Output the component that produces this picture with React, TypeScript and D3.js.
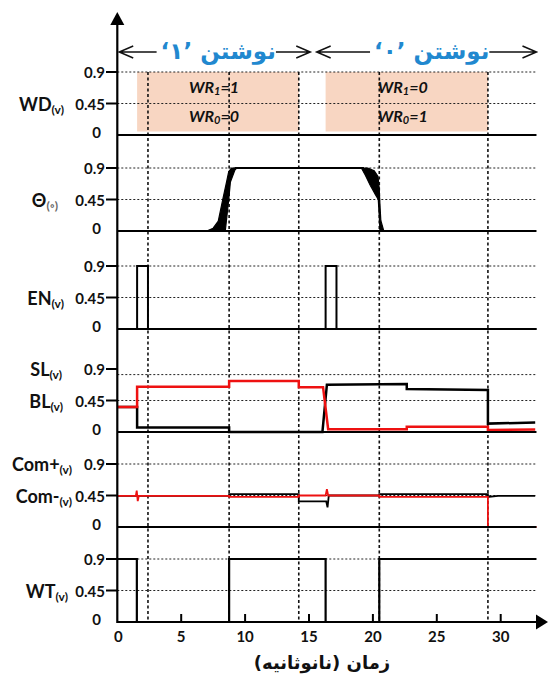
import { useEffect, useRef } from "react";
import * as d3 from "d3";

type Pt = [number, number];

// محور افقی (نانوثانیه) و محور عمودی
const xTicks = [5, 10, 15, 20, 25, 30];
const xTickLabels = [0, 5, 10, 15, 20, 25, 30];
const yTicks = [0.9, 0.45, 0];
const markerTimes = [2.4, 8.75, 14.2, 20.5, 29.0];

// سرتیتر بالا
const headerTitles = ["نوشتن ’۱‘", "نوشتن ’۰‘"];
const headerSpans: Pt[] = [
  [0.15, 15.1],
  [15.6, 32.8],
];
const headerCenters = [7.9, 24.6];

// WD
const wdBoxes: Pt[] = [
  [1.55, 14.2],
  [16.3, 29.0],
];
const wr1Values = ["1", "0"];
const wr0Values = ["0", "1"];

// Θ
const thetaPlateau: Pt[] = [
  [9.2, 0.9],
  [19.3, 0.9],
];
const thetaRiseLeft: Pt[] = [
  [7.0, 0], [7.5, 0.04], [7.9, 0.14], [8.25, 0.45], [8.55, 0.7], [8.72, 0.85], [8.95, 0.9],
];
const thetaRiseRight: Pt[] = [
  [8.45, 0], [8.6, 0.25], [8.72, 0.45], [8.85, 0.7], [9.2, 0.87], [9.34, 0.9],
];
const thetaFallLeft: Pt[] = [
  [19.1, 0.9], [19.4, 0.8], [19.8, 0.65], [20.2, 0.52], [20.42, 0.45], [20.5, 0.2], [20.55, 0],
];
const thetaFallRight: Pt[] = [
  [19.6, 0.9], [20.1, 0.86], [20.4, 0.78], [20.5, 0.6], [20.53, 0.45], [20.62, 0.15], [20.85, 0],
];

// EN
const enSeries: Pt[] = [
  [0, 0], [1.55, 0], [1.55, 0.9], [2.4, 0.9], [2.4, 0], [16.3, 0], [16.3, 0.9], [17.15, 0.9], [17.15, 0], [32.8, 0],
];

// SL / BL
const slSeries: Pt[] = [
  [0, 0.356], [1.55, 0.356], [1.55, 0.065], [8.75, 0.065], [8.75, 0], [16.05, 0], [16.4, 0.675],
  [22.65, 0.685], [22.65, 0.615], [29.0, 0.6], [29.0, 0.12], [32.7, 0.135],
];
const blSeries: Pt[] = [
  [0, 0.356], [1.55, 0.356], [1.55, 0.647], [8.75, 0.647], [8.75, 0.73], [14.2, 0.73], [14.2, 0.64],
  [16.1, 0.64], [16.5, 0.04], [22.65, 0.04], [22.65, 0.075], [29.0, 0.075], [29.0, 0.03], [32.7, 0.035],
];

// Com+ / Com-
const comMinus: Pt[] = [
  [0, 0.445], [8.75, 0.445], [8.75, 0.47], [14.2, 0.47], [14.2, 0.365], [16.35, 0.365], [16.45, 0.28],
  [16.55, 0.45], [20.5, 0.45], [20.5, 0.47], [29.0, 0.47], [29.0, 0.43], [29.8, 0.445], [32.7, 0.445],
];
const comPlus: Pt[] = [
  [0, 0.445], [1.45, 0.445], [1.52, 0.52], [1.6, 0.37], [1.68, 0.445], [8.75, 0.445], [8.75, 0.43],
  [14.2, 0.43], [14.2, 0.45], [16.3, 0.45], [16.4, 0.54], [16.5, 0.45], [20.5, 0.45], [20.5, 0.43],
  [29.0, 0.43], [29.0, 0], [32.8, 0],
];

// WT
const wtSeries: Pt[] = [
  [0, 0.9], [1.53, 0.9], [1.53, 0], [8.75, 0], [8.75, 0.9], [16.3, 0.9], [16.3, 0], [20.5, 0], [20.5, 0.9], [32.8, 0.9],
];

// برچسب‌های سمت چپ
const rowLabels = [
  { main: "WD", sub: "(v)" },
  { main: "Θ", sub: "(◦)" },
  { main: "EN", sub: "(v)" },
  { main: "SL", sub: "(v)" },
  { main: "BL", sub: "(v)" },
  { main: "Com+", sub: "(v)" },
  { main: "Com-", sub: "(v)" },
  { main: "WT", sub: "(v)" },
];
const xTitle = "زمان (نانوثانیه)";

const W = 548;
const H = 675;
const baselines = [135, 231, 329, 432, 527, 622];
const panelH = 63;
// [panel, value, right edge x]
const labelPos: [number, number, number][] = [
  [0, 0.45, 64], [1, 0.45, 58], [2, 0.45, 64], [3, 0.9, 62], [3, 0.45, 63],
  [4, 0.9, 72], [4, 0.45, 72], [5, 0.45, 68],
];
const gridVals = [[0.9, 0.45], [0.9, 0.45], [0.9, 0.45], [0.82, 0.45], [0.9, 0.45], [0.9, 0.45]];

const App = () => {
  const svgRef = useRef<SVGSVGElement | null>(null);

  useEffect(() => {
    if (!svgRef.current) return;
    const svg = d3.select(svgRef.current);
    svg.selectAll("*").remove();

    const x = d3.scaleLinear().domain([0, 30]).range([117.3, 500.7]);
    const x0 = x(0);
    const xEnd = x(32.8);
    const ys = baselines.map((b) => d3.scaleLinear().domain([0, 0.9]).range([b, b - panelH]));
    const latin = "Lato, 'Open Sans', sans-serif";
    const persian = "'DejaVu Sans', sans-serif";

    const line = (y: d3.ScaleLinear<number, number>) =>
      d3.line<Pt>().x((d) => x(d[0])).y((d) => y(d[1]));

    // WD boxes
    wdBoxes.forEach((b) => {
      svg.append("rect")
        .attr("x", x(b[0]))
        .attr("y", ys[0](0.9))
        .attr("width", x(b[1]) - x(b[0]))
        .attr("height", ys[0](0.05) - ys[0](0.9))
        .attr("fill", "#f8d6c2");
    });

    // grid
    ys.forEach((y, i) => {
      gridVals[i].forEach((v) => {
        svg.append("line")
          .attr("x1", x0).attr("x2", xEnd)
          .attr("y1", y(v)).attr("y2", y(v))
          .attr("stroke", "#222").attr("stroke-width", 1)
          .attr("stroke-dasharray", "2,2");
      });
    });

    // vertical markers
    markerTimes.forEach((t) => {
      svg.append("line")
        .attr("x1", x(t)).attr("x2", x(t))
        .attr("y1", ys[0](0.9)).attr("y2", baselines[5])
        .attr("stroke", "#111").attr("stroke-width", 1.6)
        .attr("stroke-dasharray", "3,2.5");
    });

    // WR texts
    wdBoxes.forEach((b, i) => {
      const cx = (x(b[0]) + x(b[1])) / 2 - 4;
      [[wr1Values[i], "1", 0.7], [wr0Values[i], "0", 0.28]].forEach(([val, idx, v]) => {
        const t = svg.append("text")
          .attr("x", cx).attr("y", ys[0](v as number))
          .attr("text-anchor", "middle").attr("dominant-baseline", "central")
          .attr("font-family", latin).attr("font-weight", "bold").attr("font-style", "italic")
          .attr("font-size", 16).attr("fill", "#111");
        t.append("tspan").text("WR");
        t.append("tspan").attr("font-size", 11).attr("dy", 4).text(idx as string);
        t.append("tspan").attr("dy", -4).text("=" + val);
      });
    });

    // Θ
    const fillShape = (a: Pt[], b: Pt[]) =>
      svg.append("path")
        .attr("d", line(ys[1])(a.concat([...b].reverse())) + "Z")
        .attr("fill", "#000").attr("stroke", "#000").attr("stroke-width", 1.2);
    fillShape(thetaRiseLeft, thetaRiseRight);
    fillShape(thetaFallLeft, thetaFallRight);
    svg.append("path").attr("d", line(ys[1])(thetaPlateau))
      .attr("fill", "none").attr("stroke", "#000").attr("stroke-width", 2.2);

    // EN
    svg.append("path").attr("d", line(ys[2])(enSeries))
      .attr("fill", "none").attr("stroke", "#000").attr("stroke-width", 2);

    // SL / BL
    svg.append("path").attr("d", line(ys[3])(slSeries))
      .attr("fill", "none").attr("stroke", "#000").attr("stroke-width", 2.5);
    svg.append("path").attr("d", line(ys[3])(blSeries))
      .attr("fill", "none").attr("stroke", "#ee1111").attr("stroke-width", 2.5);

    // Com
    svg.append("path").attr("d", line(ys[4])(comMinus))
      .attr("fill", "none").attr("stroke", "#000").attr("stroke-width", 1.8);
    svg.append("path").attr("d", line(ys[4])(comPlus))
      .attr("fill", "none").attr("stroke", "#ee1111").attr("stroke-width", 1.8);

    // WT
    svg.append("path").attr("d", line(ys[5])(wtSeries))
      .attr("fill", "none").attr("stroke", "#000").attr("stroke-width", 2.2);

    // zero lines, y ticks
    ys.forEach((y, i) => {
      svg.append("line")
        .attr("x1", x0).attr("x2", i === 5 ? 538 : xEnd)
        .attr("y1", y(0)).attr("y2", y(0))
        .attr("stroke", "#000").attr("stroke-width", 2.2);
      yTicks.forEach((v) => {
        if (v > 0) {
          svg.append("line")
            .attr("x1", 106).attr("x2", x0)
            .attr("y1", y(v)).attr("y2", y(v))
            .attr("stroke", "#000").attr("stroke-width", 2);
        }
        svg.append("text")
          .attr("x", v === 0 ? 101 : 105).attr("y", y(v) - (v === 0 ? 3 : 0))
          .attr("text-anchor", "end").attr("dominant-baseline", "central")
          .attr("font-family", latin).attr("font-weight", "bold").attr("font-size", 15)
          .attr("fill", "#111").text(String(v));
      });
    });

    // y axis with arrow
    svg.append("line")
      .attr("x1", x0).attr("x2", x0).attr("y1", 20).attr("y2", baselines[5] + 1)
      .attr("stroke", "#000").attr("stroke-width", 2.2);
    svg.append("path")
      .attr("d", `M${x0},12 L${x0 - 7},25 L${x0 + 7},25 Z`).attr("fill", "#000");

    // x axis arrow and ticks
    const by = baselines[5];
    svg.append("path")
      .attr("d", `M548,${by} L536,${by - 7.5} L536,${by + 7.5} Z`).attr("fill", "#000");
    xTicks.forEach((t) => {
      svg.append("line")
        .attr("x1", x(t)).attr("x2", x(t)).attr("y1", by).attr("y2", by - 8)
        .attr("stroke", "#000").attr("stroke-width", 2);
    });
    xTickLabels.forEach((t) => {
      svg.append("text")
        .attr("x", x(t) + (t === 0 ? 1 : 0)).attr("y", by + 14)
        .attr("text-anchor", "middle").attr("dominant-baseline", "central")
        .attr("font-family", latin).attr("font-weight", "bold").attr("font-size", 15)
        .attr("fill", "#111").text(String(t));
    });
    svg.append("text")
      .attr("x", 322).attr("y", 662)
      .attr("direction", "rtl").attr("text-anchor", "middle").attr("dominant-baseline", "central")
      .attr("font-family", persian).attr("font-weight", "bold").attr("font-size", 18)
      .attr("fill", "#111").text(xTitle);

    // row labels
    rowLabels.forEach((r, i) => {
      const [p, v, rx] = labelPos[i];
      const t = svg.append("text")
        .attr("x", rx).attr("y", ys[p](v))
        .attr("text-anchor", "end").attr("dominant-baseline", "central")
        .attr("font-family", latin).attr("font-weight", "bold").attr("font-size", 18)
        .attr("fill", "#111");
      t.append("tspan").text(r.main);
      t.append("tspan").attr("font-size", 12).attr("dy", 5)
        .attr("fill", r.main === "Θ" ? "#666" : "#111").text(r.sub);
    });

    // header arrows
    headerSpans.forEach((s, i) => {
      const a = x(s[0]);
      const b = x(s[1]);
      const hy = 52;
      svg.append("path")
        .attr("d", `M${a},${hy} L${b},${hy} M${a + 14},${hy - 6} L${a},${hy} L${a + 14},${hy + 6} M${b - 14},${hy - 6} L${b},${hy} L${b - 14},${hy + 6}`)
        .attr("fill", "none").attr("stroke", "#111").attr("stroke-width", 1.5);
      const bg = svg.append("rect").attr("fill", "#fff");
      const t = svg.append("text")
        .attr("x", x(headerCenters[i])).attr("y", hy - 1)
        .attr("direction", "rtl").attr("text-anchor", "middle").attr("dominant-baseline", "central")
        .attr("font-family", persian).attr("font-weight", "bold").attr("font-size", 23)
        .attr("fill", "#2188cf")
        .text(headerTitles[i]);
      const bb = (t.node() as SVGTextElement).getBBox();
      bg.attr("x", bb.x - 4).attr("y", hy - 4).attr("width", bb.width + 4).attr("height", 8);
    });
  }, []);

  return (
    <div style={{ position: "absolute", left: 0, top: 0, background: "#fff" }}>
      <svg ref={svgRef} width={W} height={H} style={{ display: "block" }}></svg>
    </div>
  );
};

export default App;
